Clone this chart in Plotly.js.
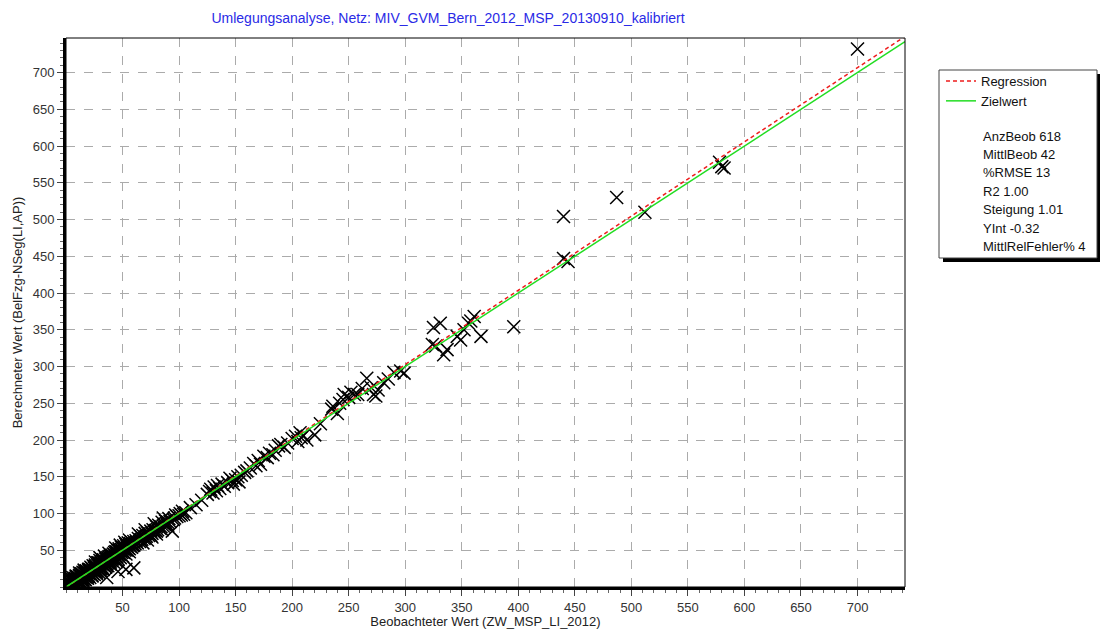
<!DOCTYPE html>
<html>
<head>
<meta charset="utf-8">
<script src="https://cdn.plot.ly/plotly-3.0.1.min.js"></script>
<style>html,body{margin:0;padding:0;background:#fff;}#chart{width:1103px;height:629px;}</style>
</head>
<body>
<div id="chart"></div>
<script>
// ---- Data ----
const obsX = [
 1,2,2,3,3,4,4,5,5,6,6,6,7,7,8,8,8,9,9,10,10,10,11,11,12,12,12,13,13,14,14,14,15,15,15,16,16,17,17,18,18,18,19,19,20,20,20,3,5,7,9,11,13,15,17,19,1,4,6,9,12,16,
 2,4,6,8,10,12,14,16,18,20,3,7,11,15,19,5,9,13,17,
 21,21,22,22,22,23,23,24,24,24,25,25,26,26,27,27,28,28,29,29,30,30,30,31,31,32,32,33,33,34,34,35,35,36,36,37,37,38,38,39,39,40,40,21,23,25,27,29,31,33,35,37,39,26,30,34,38,
 22,24,26,28,30,32,34,36,38,40,23,27,31,35,39,25,29,33,
 41,41,42,42,43,43,44,44,45,45,46,46,47,47,48,48,49,49,50,50,51,51,52,52,53,53,54,54,55,55,56,56,57,58,58,59,60,60,42,44,46,48,50,53,56,44,48,52,56,
 41,43,45,47,49,51,54,57,59,
 36,46,53,60,
 61,62,63,64,65,66,66,67,68,69,70,70,71,72,73,74,75,75,76,77,78,79,80,80,81,82,83,84,85,86,87,88,89,90,91,92,94,95,96,97,98,100,101,102,103,104,106,68,72,76,80,85,90,64,70,78,86,
 110,115,120,125,127,128,130,131,133,134,136,138,140,143,145,147,148,150,152,153,155,158,160,163,166,168,170,172,175,178,180,183,185,188,190,193,196,200,203,205,207,208,210,213,220,225,
 235,236,240,242,245,246,250,252,255,258,262,266,270,272,274,276,281,285,290,296,299,
 324,327,325,331,334,337,346,349,356,361,367,396,352,358,
 440,444,440,487,512,578,580,582,700
];
const calcY = [
 2,1,4,3,6,2,5,4,8,3,6,10,5,9,6,12,3,8,11,7,10,14,9,13,8,12,16,10,15,12,18,9,13,16,20,12,15,14,19,13,17,22,16,20,15,18,24,0.5,1,2,4,6,7,9,10,12,5,9,13,15,19,23,
 3,6,8,10,13,15,17,19,21,22,1,4,7,10,14,11,14,18,21,
 19,24,17,22,27,20,25,18,23,29,21,26,24,30,22,27,25,33,24,29,26,31,36,28,33,27,31,30,37,29,34,31,38,32,35,33,40,34,37,35,42,36,39,13,15,17,18,20,22,24,27,29,31,34,40,42,46,
 21,23,28,30,32,35,36,38,41,43,16,20,25,30,33,28,33,36,
 38,43,39,45,40,47,42,48,41,46,44,50,45,52,44,49,47,54,48,52,47,56,50,54,51,58,50,55,53,60,52,57,55,54,61,56,57,62,34,36,38,40,42,45,48,53,57,61,64,
 40,44,48,50,51,53,57,59,58,
 13,21,24,26,
 59,63,60,66,62,64,69,65,70,66,68,73,69,74,70,72,76,70,73,78,75,77,82,76,78,84,80,82,88,83,85,90,86,88,93,89,76,92,94,98,96,97,100,98,103,99,101,60,64,68,72,78,84,72,78,86,94,
 108,112,118,126,130,133,128,136,131,138,134,140,137,142,148,145,140,146,150,143,152,156,158,162,168,165,172,167,178,176,182,180,186,192,194,190,196,202,205,198,210,203,206,200,207,222,
 242,246,236,250,255,262,258,265,262,262,270,284,271,262,260,268,278,283,292,294,291,
 330,328,353,359,316,323,341,336,359,368,341,354,350,362,
 447,443,504,530,510,578,572,570,732
];
const seriesNames = ["Regression", "Zielwert"];
const regSlope = 1.01, regIntercept = -0.32;   // from the statistics box
const lineX = [0, 742];
const statLabels = ["AnzBeob 618", "MittlBeob 42", "%RMSE 13", "R2 1.00", "Steigung 1.01", "YInt -0.32", "MittlRelFehler% 4"];
const tickVals = [50,100,150,200,250,300,350,400,450,500,550,600,650,700];

// ---- Layout geometry (pixels) ----
const W = 1103, H = 629;
const L = 66, R = 905, T = 38, B = 587;
const pw = R - L, ph = B - T;
const px = x => (x - L) / pw;
const py = y => (B - y) / ph;

const traces = [
  {x: obsX, y: calcY, type: 'scatter', mode: 'markers', showlegend: false, hoverinfo: 'x+y',
   marker: {symbol: 'x-thin-open', size: 13, color: '#000', line: {color: '#000', width: 1.5}}},
  {x: lineX, y: lineX.map(v => regSlope * v + regIntercept), type: 'scatter', mode: 'lines', name: seriesNames[0],
   line: {color: '#ee1c1c', width: 1.5, dash: '4px,3px'}},
  {x: lineX, y: lineX.slice(), type: 'scatter', mode: 'lines', name: seriesNames[1],
   line: {color: '#22dd22', width: 1.5}}
];

const font = 'Arial, "Liberation Sans", sans-serif';
const axisCommon = {
  tickmode: 'array', tickvals: tickVals,
  ticks: 'outside', ticklen: 6, tickwidth: 1, tickcolor: '#444',
  showgrid: true, gridcolor: '#ababab', griddash: 'dash', gridwidth: 1,
  zeroline: false, showline: true, linecolor: '#000', linewidth: 3,
  tickfont: {family: font, size: 13, color: '#333'},
  minor: {tickmode: 'linear', tick0: 0, dtick: 10, ticks: 'outside', ticklen: 3, tickcolor: '#666', showgrid: false},
  fixedrange: true
};

const annotations = statLabels.map((s, i) => ({
  xref: 'paper', yref: 'paper', x: px(981), y: py(136 + i * 18.4), xanchor: 'left', yanchor: 'middle',
  text: s, showarrow: false, font: {family: font, size: 13, color: '#111'}
}));

const shapes = [
  // thin frame on top/right
  {type: 'rect', xref: 'paper', yref: 'paper', x0: 0, x1: 1, y0: 0, y1: 1, line: {color: '#000', width: 1}, layer: 'above'},
  // legend box shadow and box
  {type: 'rect', xref: 'paper', yref: 'paper', x0: px(943), x1: px(1100), y0: py(262), y1: py(74), fillcolor: '#000', line: {width: 0}, layer: 'below'},
  {type: 'rect', xref: 'paper', yref: 'paper', x0: px(939), x1: px(1097), y0: py(258), y1: py(70), fillcolor: '#fff', line: {color: '#444', width: 1}, layer: 'below'}
];

const layout = {
  width: W, height: H,
  margin: {l: L, r: W - R, t: T, b: H - B, pad: 0},
  paper_bgcolor: '#fff', plot_bgcolor: '#fff',
  title: {text: 'Umlegungsanalyse, Netz: MIV_GVM_Bern_2012_MSP_20130910_kalibriert',
          font: {family: font, size: 14, color: '#2a2ae6'}, x: 448 / W, xanchor: 'center', xref: 'container',
          y: 1 - 18 / H, yanchor: 'middle', yref: 'container'},
  xaxis: Object.assign({}, axisCommon, {range: [0, 742],
          title: {text: 'Beobachteter Wert (ZW_MSP_LI_2012)', font: {family: font, size: 13, color: '#222'}, standoff: 6}}),
  yaxis: Object.assign({}, axisCommon, {range: [0, 747],
          title: {text: 'Berechneter Wert (BelFzg-NSeg(LI,AP))', font: {family: font, size: 13, color: '#222'}, standoff: 8}}),
  showlegend: true,
  legend: {x: px(941), y: py(66), xanchor: 'left', yanchor: 'top', bgcolor: 'rgba(0,0,0,0)',
           borderwidth: 0, font: {family: font, size: 13, color: '#111'}, tracegroupgap: 0, itemwidth: 30},
  annotations: annotations,
  shapes: shapes,
  hovermode: 'closest'
};

Plotly.newPlot('chart', traces, layout, {displayModeBar: false, staticPlot: true});
</script>
</body>
</html>
